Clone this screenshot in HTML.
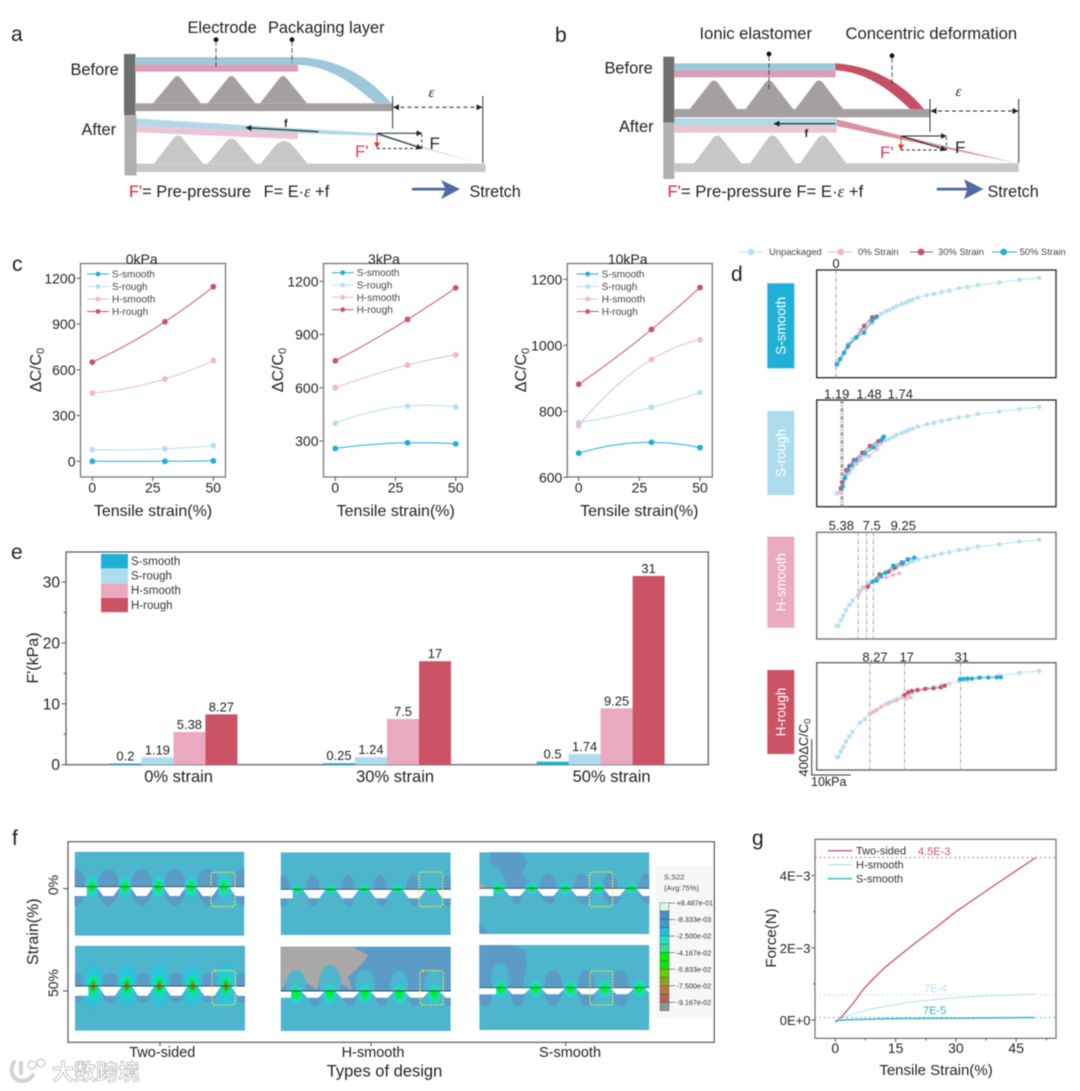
<!DOCTYPE html>
<html lang="en">
<head>
<meta charset="utf-8">
<title>Sensor figure</title>
<style>
html,body{margin:0;padding:0;background:#fff;width:1080px;height:1091px;overflow:hidden}
svg{display:block;filter:blur(0.5px)}
text{font-family:"Liberation Sans","Noto Sans CJK SC",sans-serif;fill:#222}
</style>
</head>
<body>
<svg id="fig" xmlns="http://www.w3.org/2000/svg" width="1080" height="1091" viewBox="0 0 1080 1091">
<defs>
<marker id="ah" markerWidth="7" markerHeight="7" refX="5.5" refY="3" orient="auto-start-reverse" markerUnits="userSpaceOnUse"><path d="M0,0 L6,3 L0,6 Z" fill="#222"/></marker>
<marker id="ar" markerWidth="7" markerHeight="7" refX="5.5" refY="3" orient="auto" markerUnits="userSpaceOnUse"><path d="M0,0 L6,3 L0,6 Z" fill="#d63a3a"/></marker>
<radialGradient id="hotA"><stop offset="0" stop-color="#00f028"/><stop offset=".34" stop-color="#00f040"/><stop offset=".52" stop-color="#20dcc8"/><stop offset=".78" stop-color="#30c8dc" stop-opacity=".8"/><stop offset="1" stop-color="#4db5cc" stop-opacity="0"/></radialGradient>
<radialGradient id="hotB"><stop offset="0" stop-color="#b84030"/><stop offset=".1" stop-color="#a07020"/><stop offset=".2" stop-color="#00e830"/><stop offset=".36" stop-color="#10e0b0"/><stop offset=".55" stop-color="#28c8dc"/><stop offset=".85" stop-color="#30c0d8" stop-opacity=".7"/><stop offset="1" stop-color="#4db5cc" stop-opacity="0"/></radialGradient>
</defs>

<!-- panel a -->
<g>
<text x="11" y="41" font-size="21">a</text>
<text x="187.5" y="33" font-size="16.4">Electrode</text>
<text x="268" y="33" font-size="16.4">Packaging layer</text>
<text x="70.5" y="75" font-size="16.4">Before</text>
<text x="81.5" y="135" font-size="16.4">After</text>
<rect x="124" y="54" width="11.5" height="61" fill="#6f6f6f"/>
<rect x="124.5" y="115" width="12" height="60.5" fill="#b0b0b0"/>
<path d="M135,57.3 H298 C335,58 368,75 391,103 L375,103 C355,85 330,66 298,64.7 H135 Z" fill="#9cc8da"/>
<rect x="135" y="64.7" width="163" height="7" fill="#dc9db6"/>
<path d="M153,103.3 L174,78 Q177.3,74 180.6,78 L200.8,103.3 Z" fill="#a5a09f"/>
<path d="M207.6,103.3 L228,78 Q231.4,74 234.8,78 L255.5,103.3 Z" fill="#a5a09f"/>
<path d="M260,103.3 L279.6,78 Q283,74 286.4,78 L307,103.3 Z" fill="#a5a09f"/>
<rect x="135" y="103.3" width="257.6" height="7.8" fill="#a5a09f"/>
<path d="M136.5,118.5 L377,133.3 L479.5,163.5 L377,135.8 L298,133.3 L136.5,126 Z" fill="#b3d7e5"/>
<path d="M136.5,126 L298,133.3 V139.3 L136.5,132.3 Z" fill="#ecc4d5"/>
<path d="M154,163.5 L173,139 Q178,132 183,139 L203,163.5 Z" fill="#c9c7c5"/>
<path d="M208,163.5 L226,142 Q231.4,135 237,142 L255.5,163.5 Z" fill="#c9c7c5"/>
<path d="M260.7,163.5 L275,146 Q284,136 293,146 L307.5,163.5 Z" fill="#c9c7c5"/>
<rect x="136.5" y="163.7" width="349" height="8.3" fill="#c9c7c5"/>
<path d="M392.6,96 V128.3 M482.8,96 V163" stroke="#333" stroke-width="1" fill="none"/>
<line x1="393.5" y1="107.3" x2="482" y2="107.3" stroke="#222" stroke-width="1" stroke-dasharray="4 3" marker-start="url(#ah)" marker-end="url(#ah)"/>
<text x="428.5" y="97" font-size="15" font-style="italic" style="font-family:'Liberation Serif',serif">ε</text>
<line x1="318.5" y1="131.7" x2="246" y2="127.7" stroke="#222" stroke-width="1.1" marker-end="url(#ah)"/>
<text x="284" y="127" font-size="11" font-weight="bold">f</text>
<line x1="377" y1="133.3" x2="421.8" y2="133.3" stroke="#222" stroke-width="1" marker-end="url(#ah)"/>
<line x1="377" y1="133.3" x2="421.8" y2="148.5" stroke="#222" stroke-width="1.1" marker-end="url(#ah)"/>
<path d="M421.8,134 V148.5 M377,148.5 H421.8" stroke="#222" stroke-width=".9" stroke-dasharray="3 2.5" fill="none"/>
<line x1="377" y1="133.3" x2="377" y2="148" stroke="#d63a3a" stroke-width="1" marker-end="url(#ar)"/>
<text x="429.5" y="149" font-size="17">F</text>
<text x="355" y="157" font-size="17" style="fill:#e0395a">F'</text>
<circle cx="216" cy="39.7" r="2.4" fill="#111"/>
<circle cx="292" cy="39.7" r="2.4" fill="#111"/>
<path d="M216,41 V68 M292,41 V63" stroke="#333" stroke-width=".8" stroke-dasharray="5 2" fill="none"/>
<text x="129" y="197" font-size="16.4"><tspan style="fill:#e0202a">F'</tspan>= Pre-pressure <tspan dx="8">F= E·</tspan><tspan font-style="italic" style="font-family:'Liberation Serif',serif">ε</tspan> +f</text>
<path d="M412,187.8 H445 L441,180 L460,189 L441,199.3 L445,190.5 H412 Z" fill="#5068a8"/>
<text x="469.5" y="197" font-size="16.2">Stretch</text>
</g>

<!-- panel b -->
<g>
<text x="555" y="42" font-size="21">b</text>
<text x="699.5" y="39" font-size="16.6">Ionic elastomer</text>
<text x="845.5" y="39" font-size="16.6">Concentric deformation</text>
<text x="604.5" y="73.5" font-size="16.4">Before</text>
<text x="619" y="132" font-size="16.4">After</text>
<rect x="663.3" y="114" width="11" height="65" fill="#b0b0b0"/>
<rect x="663.3" y="56.7" width="11" height="65.6" fill="#707070"/>
<rect x="674.3" y="63.3" width="161.2" height="7" fill="#9cc8da"/>
<rect x="674.3" y="70.3" width="161.2" height="7" fill="#dc9db6"/>
<path d="M835.5,63.3 C870,66 900,80 924,109 L910,109 C888,88 865,72 835.5,70.3 Z" fill="#c44f63"/>
<path d="M689.8,109 L710,83 Q714,78 718,83 L737,109 Z" fill="#a5a09f"/>
<path d="M745.6,109 L765,83 Q769,78 773,83 L793,109 Z" fill="#a5a09f"/>
<path d="M795.5,109 L815,83 Q819,78 823,83 L843,109 Z" fill="#a5a09f"/>
<rect x="674.3" y="109" width="255.5" height="8.3" fill="#a5a09f"/>
<rect x="674.3" y="118.3" width="162.5" height="7.7" fill="#b5d8e6"/>
<rect x="674.3" y="126" width="162.5" height="6.7" fill="#ecc4d5"/>
<path d="M836.8,119.3 L901,135.5 L1018,163.5 L901,139.5 L836.8,126 Z" fill="#d9919f"/>
<path d="M694,163.5 L713,138 Q717.3,133 721.5,138 L741.4,163.5 Z" fill="#c9c7c5"/>
<path d="M750,163.5 L768,138 Q772.4,133 777,138 L795.5,163.5 Z" fill="#c9c7c5"/>
<path d="M800,163.5 L818,138 Q822.4,133 827,138 L846.5,163.5 Z" fill="#c9c7c5"/>
<rect x="674.3" y="163.3" width="344.4" height="8.7" fill="#c9c7c5"/>
<path d="M930,99 V131.7 M1018.7,99 V163" stroke="#333" stroke-width="1" fill="none"/>
<line x1="931" y1="111" x2="1018" y2="111" stroke="#222" stroke-width="1" stroke-dasharray="4 3" marker-start="url(#ah)" marker-end="url(#ah)"/>
<text x="955.5" y="96" font-size="15" font-style="italic" style="font-family:'Liberation Serif',serif">ε</text>
<line x1="835.5" y1="123.7" x2="774" y2="123.7" stroke="#222" stroke-width="1.1" marker-end="url(#ah)"/>
<text x="804.5" y="137" font-size="11" font-weight="bold">f</text>
<line x1="901" y1="136" x2="946.3" y2="136" stroke="#222" stroke-width="1" marker-end="url(#ah)"/>
<line x1="901" y1="136" x2="946.3" y2="150" stroke="#222" stroke-width="1.1" marker-end="url(#ah)"/>
<path d="M946.3,137 V150 M901,150 H946.3" stroke="#222" stroke-width=".9" stroke-dasharray="3 2.5" fill="none"/>
<line x1="901" y1="136" x2="901" y2="150" stroke="#d6502a" stroke-width="1" marker-end="url(#ar)"/>
<text x="955" y="153" font-size="17">F</text>
<text x="880" y="158" font-size="17" style="fill:#e0395a">F'</text>
<circle cx="769" cy="54" r="2.4" fill="#111"/>
<circle cx="892" cy="55.7" r="2.4" fill="#111"/>
<path d="M769,56 V89 M892,58 V85" stroke="#333" stroke-width=".8" stroke-dasharray="5 2" fill="none"/>
<text x="667.5" y="197" font-size="16.7"><tspan style="fill:#e0202a">F'</tspan>= Pre-pressure F= E·<tspan font-style="italic" style="font-family:'Liberation Serif',serif">ε</tspan> +f</text>
<path d="M936.7,187.8 H967 L964,179.3 L983.5,189 L964,199.3 L967,190.5 H936.7 Z" fill="#5068a8"/>
<text x="987.5" y="197" font-size="16.2">Stretch</text>
</g>

<text x="12" y="271" font-size="21">c</text>
<text x="731" y="281" font-size="21">d</text>
<text x="11" y="559" font-size="21">e</text>
<text x="12" y="845" font-size="21">f</text>
<text x="752" y="845" font-size="21">g</text>

<g id="chartC"></g>
<g id="chartD"></g>
<g id="chartE"></g>
<g id="feaF"></g>
<g id="chartG"></g>

<g opacity=".95">
<path d="M14,1062 C9,1070 12,1080 22,1081 C28,1081 31,1078 33,1075 M21,1063 V1073" fill="none" stroke="#d0d0d0" stroke-width="4" stroke-linecap="round"/>
<circle cx="32" cy="1065" r="4" fill="none" stroke="#d0d0d0" stroke-width="1.5"/>
<circle cx="41" cy="1063" r="4" fill="none" stroke="#d0d0d0" stroke-width="1.5"/>
<text x="52" y="1080" font-size="22" font-weight="bold" style="fill:#fff;stroke:#b8b8b8;stroke-width:.8">大数跨境</text>
</g>
</svg>

<script>
// ---------- panel c data ----------
const cStrain = [0, 30, 50];
const cTicksX = [0, 25, 50];
const cTicksY1 = [0, 300, 600, 900, 1200];
const cTicksY2 = [300, 600, 900, 1200];
const cTicksY3 = [600, 800, 1000, 1200];
const cSeriesNames = ['S-smooth', 'S-rough', 'H-smooth', 'H-rough'];
const c1SSmooth = [0, 0, 3];
const c1SRough = [75, 82, 102];
const c1HSmooth = [447, 540, 660];
const c1HRough = [650, 915, 1145];
const c2SSmooth = [258, 290, 284];
const c2SRough = [400, 497, 492];
const c2HSmooth = [600, 728, 786];
const c2HRough = [752, 985, 1163];
const c3SSmooth = [673, 706, 690];
const c3SRough = [766, 812, 857];
const c3HSmooth = [757, 957, 1017];
const c3HRough = [882, 1048, 1175];

// ---------- panel d data ----------
const dUnpackagedKPa = [0.2,0.6,1.2,1.8,2.5,3.3,4.1,6.0,7.2,8.6,10.1,11.2,12.3,13.2,14.2,15.1,16.3,17.3,18.1,19.0,20.3,22.5,24.3,26.2,28.1,30.5,32.6,35.2,40.5,45.5,50.4];
const dUnpackagedDC = [0,4,65,113,174,229,276,378,418,480,516,549,578,592,614,636,658,672,691,705,727,752,767,789,803,829,840,865,891,920,941];
const dLegendNames = ['Unpackaged', '0% Strain', '30% Strain', '50% Strain'];
const d1PinkKPa = [0.2,1,2,3,5.05,6.95,9,9.6];
const d1PinkDC = [0,55,120,185,287,382,447,502];
const d1RedKPa = [0.2,1,2,3,5.05,6.95,9,10.1];
const d1RedDC = [0,55,127,200,294,418,513,520];
const d1BlueKPa = [0.2,1,2,3,5.05,6.95,9,9.9];
const d1BlueDC = [0,55,127,207,294,345,476,513];
const d2PinkKPa = [1,1.8,3.1,5.1,6.2,8.2,10.1,11.2];
const d2PinkDC = [18,109,218,320,363,407,480,545];
const d2RedKPa = [1.2,1.5,2.5,3.3,4.4,6.5,8.4,10.5,11.7];
const d2RedDC = [55,120,254,298,363,443,516,570,611];
const d2BlueKPa = [1.65,2.2,3,3.9,5,7.2,9.3,11.3,11.9];
const d2BlueDC = [73,164,254,309,363,436,502,582,618];
const d3PinkKPa = [5.5,6.6,7.9,10.1,12.4,14.2,15.7];
const d3PinkDC = [338,422,447,509,531,556,574];
const d3RedKPa = [7.9,10.8,13,14.6,16.5,17.8];
const d3RedDC = [429,563,592,636,683,727];
const d3BlueKPa = [9.1,10.1,11.2,12.3,14.2,16.3,17.9,19.4];
const d3BlueDC = [483,494,545,582,658,694,727,745];
const d4PinkKPa = [8.4,9.3,10.1,11.3,13.2,15.1,17.4,18.5];
const d4PinkDC = [473,498,516,553,596,625,643,654];
const d4RedKPa = [17,17.9,18.8,20.2,22.1,24.2,26,27];
const d4RedDC = [680,709,723,734,745,752,763,781];
const d4BlueKPa = [30.8,31.6,32.6,33.7,35.7,37.8,39.9,40.9];
const d4BlueDC = [851,854,858,858,869,869,872,872];
const d1Guides = [0];
const d2Guides = [1.19,1.48,1.74];
const d3Guides = [5.5,7.6,9.25];
const d4Guides = [8.4,17,30.9];

// ---------- panel e data ----------
const eGroups = ['0% strain', '30% strain', '50% strain'];
const eSeriesNames = ['S-smooth', 'S-rough', 'H-smooth', 'H-rough'];
const eSSmooth = [0.2, 0.25, 0.5];
const eSRough = [1.19, 1.24, 1.74];
const eHSmooth = [5.38, 7.5, 9.25];
const eHRough = [8.27, 17, 31];
const eTicks = [0, 10, 20, 30];
const eMinorTicks = [5, 15, 25];

// ---------- panel g data (force in 1E-3 N) ----------
const gTicksX = [0, 15, 30, 45];
const gMinorX = [7.5, 22.5, 37.5, 52.5];
const gTicksY = [0, 2, 4];
const gTickLabelsY = ['0E+0', '2E\u22123', '4E\u22123'];
const gMinorY = [1, 3];
const gTwoSidedX = [0,1.6,4.5,7,9.5,12,15,20.2,25.2,30,35.1,40.1,44.9,49.9];
const gTwoSidedY = [-0.06,0.09,0.47,0.85,1.15,1.42,1.7,2.16,2.58,3.0,3.39,3.77,4.13,4.5];
const gHSmoothX = [0,2,5.3,8.6,12.8,17.8,23.6,30,36.8,43.4,49.5];
const gHSmoothY = [-0.03,0.07,0.2,0.3,0.38,0.48,0.55,0.62,0.665,0.69,0.72];
const gSSmoothX = [0,2,5,15,30,49.5];
const gSSmoothY = [-0.02,0,0.01,0.04,0.05,0.07];
const gRefLevels = [4.5, 0.7, 0.07];

// ---------- helpers ----------
const NS = 'http://www.w3.org/2000/svg';
function el(tag, attrs, parent) {
  const n = document.createElementNS(NS, tag);
  for (const k in attrs) n.setAttribute(k, attrs[k]);
  parent.appendChild(n);
  return n;
}
function txt(content, attrs, parent) {
  const n = el('text', attrs, parent);
  n.textContent = content;
  return n;
}
const COL = { ss: '#23acd6', sr: '#b6def0', hs: '#f0b8cc', hr: '#c9546a' };
const BAR = ['#1fb0d8', '#aedcef', '#e9a9c1', '#cc5366'];
const gC = document.getElementById('chartC');
const gD = document.getElementById('chartD');
const gE = document.getElementById('chartE');
const gF = document.getElementById('feaF');
const gG = document.getElementById('chartG');

// quadratic through three points, used for the smooth fit in panel c
function quad(xs, ys, x) {
  let s = 0;
  for (let i = 0; i < 3; i++) {
    let t = ys[i];
    for (let j = 0; j < 3; j++) if (j !== i) t *= (x - xs[j]) / (xs[i] - xs[j]);
    s += t;
  }
  return s;
}

// ---------- panel c ----------
function drawC(cfg) {
  const sx = v => cfg.x0 + (v - 0) * (cfg.x50 - cfg.x0) / 50;
  const sy = v => cfg.yA + (v - cfg.vA) * (cfg.yB - cfg.yA) / (cfg.vB - cfg.vA);
  const g = el('g', {}, gC);
  
  
  const fr = el('rect', { x: cfg.l, y: 263.5, width: cfg.r - cfg.l, height: 213.5, fill: 'none', stroke: '#777', 'stroke-width': 1.3 }, g);
  
  
  cfg.ticks.forEach(v => {
    const t = el('line', { x1: cfg.l - 4, x2: cfg.l, y1: sy(v), y2: sy(v), stroke: '#555', 'stroke-width': 1 }, g);
    
    
    const lb = txt(String(v), { x: cfg.l - 5, y: sy(v) + 5, 'text-anchor': 'end', 'font-size': 14 }, g);
    
    
  });
  cTicksX.forEach(v => {
    const t = el('line', { x1: sx(v), x2: sx(v), y1: 477, y2: 481, stroke: '#555', 'stroke-width': 1 }, g);
    
    
    const lb = txt(String(v), { x: sx(v), y: 492.5, 'text-anchor': 'middle', 'font-size': 14 }, g);
    
    
  });
  const ti = txt(cfg.title, { x: cfg.titleX, y: 264, 'text-anchor': 'middle', 'font-size': 14 }, g);
  
  
  const xt = txt('Tensile strain(%)', { x: cfg.xTitleX, y: 516, 'text-anchor': 'middle', 'font-size': 16 }, g);
  
  
  const yt = el('text', { transform: 'translate(' + cfg.yTitleX + ',370) rotate(-90)', 'text-anchor': 'middle', 'font-size': 16 }, g);
  
  
  yt.appendChild(document.createTextNode('\u0394C/C'));
  const sub = el('tspan', { dy: 3, 'font-size': 11 }, yt);
  sub.textContent = '0';
  const colors = [COL.ss, COL.sr, COL.hs, COL.hr];
  cfg.series.forEach((vals, si) => {
    let d = '';
    for (let x = 0; x <= 50; x += 1) {
      d += (x ? 'L' : 'M') + sx(x).toFixed(1) + ',' + sy(quad(cStrain, vals, x)).toFixed(1);
    }
    const p = el('path', { d: d, fill: 'none', stroke: colors[si], 'stroke-width': 1 }, g);
    
    
    vals.forEach((v, i) => {
      const c = el('circle', { cx: sx(cStrain[i]), cy: sy(v), r: 2.9, fill: colors[si] }, g);
      
      
    });
    const ly = cfg.legY + si * cfg.legDy;
    const ll = el('line', { x1: cfg.legX, x2: cfg.legX + 22, y1: ly, y2: ly, stroke: colors[si], 'stroke-width': 1 }, g);
    
    
    const lc = el('circle', { cx: cfg.legX + 11, cy: ly, r: 2.4, fill: colors[si] }, g);
    
    
    const lt = txt(cSeriesNames[si], { x: cfg.legX + 25, y: ly + 3.5, 'font-size': 10, style: 'fill:#444' }, g);
    
    
  });
}
drawC({ name: '0kpa', title: '0kPa', l: 80.5, r: 225.5, x0: 92.3, x50: 213.3, yA: 461.3, vA: 0, yB: 278.3, vB: 1200, ticks: cTicksY1, titleX: 141.7, xTitleX: 153, yTitleX: 41, legX: 87, legY: 274, legDy: 12.5, series: [c1SSmooth, c1SRough, c1HSmooth, c1HRough] });
drawC({ name: '3kpa', title: '3kPa', l: 323.5, r: 467.7, x0: 335.3, x50: 455.7, yA: 441, vA: 300, yB: 281.3, vB: 1200, ticks: cTicksY2, titleX: 384, xTitleX: 395.7, yTitleX: 283, legX: 331.7, legY: 272.7, legDy: 12.3, series: [c2SSmooth, c2SRough, c2HSmooth, c2HRough] });
drawC({ name: '10kpa', title: '10kPa', l: 567.3, r: 712.3, x0: 578.7, x50: 700, yA: 477.3, vA: 600, yB: 279.3, vB: 1200, ticks: cTicksY3, titleX: 627.7, xTitleX: 639.3, yTitleX: 526, legX: 576.7, legY: 274, legDy: 12.5, series: [c3SSmooth, c3SRough, c3HSmooth, c3HRough] });

// ---------- panel d ----------
const dX = k => 836 + k * 4.03;
const dY = (y0, v) => y0 - v * 0.0917;
function dSeries(g, y0, xs, ys, color, r, name) {
  const pts = xs.map((x, i) => dX(x).toFixed(1) + ',' + dY(y0, ys[i]).toFixed(1)).join(' ');
  const l = el('polyline', { points: pts, fill: 'none', stroke: color, 'stroke-width': .9 }, g);
  
  
  xs.forEach((x, i) => {
    const c = el('circle', { cx: dX(x), cy: dY(y0, ys[i]), r: r, fill: color }, g);
    
    
  });
}
function drawD(cfg) {
  const g = el('g', {}, gD);
  
  
  const tag = el('rect', { x: 767.3, y: cfg.tagTop, width: 27, height: cfg.tagH, fill: cfg.color }, g);
  
  
  const tl = txt(cfg.name, { transform: 'translate(785.5,' + (cfg.tagTop + cfg.tagH / 2) + ') rotate(-90)', 'text-anchor': 'middle', 'font-size': 13.5, style: 'fill:#fff' }, g);
  
  
  const fr = el('rect', { x: 816.7, y: cfg.top, width: 239.3, height: cfg.bot - cfg.top, fill: 'none', stroke: cfg.frame, 'stroke-width': 1.4 }, g);
  
  
  cfg.guides.forEach(k => {
    const l = el('line', { x1: dX(k), x2: dX(k), y1: cfg.top, y2: cfg.bot, stroke: '#8a8a8a', 'stroke-width': .8, 'stroke-dasharray': '4 1.5 1 1.5' }, g);
    
    
  });
  cfg.labels.forEach((s, i) => {
    const t = txt(s, { x: cfg.labelX[i], y: cfg.labelY, 'text-anchor': 'middle', 'font-size': 13 }, g);
    
    
  });
  dSeries(g, cfg.y0, dUnpackagedKPa, dUnpackagedDC, '#b9e0f1', 2.3, 'unpackaged');
  dSeries(g, cfg.y0, cfg.pink[0], cfg.pink[1], '#f0b8cc', 2.1, 'strain-0');
  dSeries(g, cfg.y0, cfg.red[0], cfg.red[1], '#c9546a', 2.2, 'strain-30');
  dSeries(g, cfg.y0, cfg.blue[0], cfg.blue[1], '#23acd6', 2.2, 'strain-50');
}
drawD({ name: 'S-smooth', color: BAR[0], frame: '#333', tagTop: 283.3, tagH: 85, top: 270, bot: 377.7, y0: 364.3, guides: d1Guides, labels: ['0'], labelX: [836], labelY: 268, pink: [d1PinkKPa, d1PinkDC], red: [d1RedKPa, d1RedDC], blue: [d1BlueKPa, d1BlueDC] });
drawD({ name: 'S-rough', color: BAR[1], frame: '#333', tagTop: 411, tagH: 84, top: 400, bot: 506.7, y0: 493.3, guides: d2Guides, labels: ['1.19', '1.48', '1.74'], labelX: [836.7, 869, 900.3], labelY: 398.5, pink: [d2PinkKPa, d2PinkDC], red: [d2RedKPa, d2RedDC], blue: [d2BlueKPa, d2BlueDC] });
drawD({ name: 'H-smooth', color: BAR[2], frame: '#777', tagTop: 536.7, tagH: 91, top: 532.3, bot: 639, y0: 626, guides: d3Guides, labels: ['5.38', '7.5', '9.25'], labelX: [841.3, 871.7, 903.3], labelY: 530, pink: [d3PinkKPa, d3PinkDC], red: [d3RedKPa, d3RedDC], blue: [d3BlueKPa, d3BlueDC] });
drawD({ name: 'H-rough', color: BAR[3], frame: '#666', tagTop: 670, tagH: 84, top: 662.7, bot: 770, y0: 757.3, guides: d4Guides, labels: ['8.27', '17', '31'], labelX: [875, 906.7, 961.7], labelY: 661.3, pink: [d4PinkKPa, d4PinkDC], red: [d4RedKPa, d4RedDC], blue: [d4BlueKPa, d4BlueDC] });

// legend for panel d
[['#b9e0f1', 738, 763, 751, 769], ['#f0b8cc', 828, 852, 840.7, 858], ['#c9546a', 910, 933, 921, 938], ['#23acd6', 992, 1017, 1003.7, 1019.7]].forEach((e, i) => {
  const l = el('line', { x1: e[1], x2: e[2], y1: 252, y2: 252, stroke: e[0], 'stroke-width': 1 }, gD);
  
  
  const c = el('circle', { cx: e[3], cy: 252, r: 3.4, fill: e[0] }, gD);
  
  
  const t = txt(dLegendNames[i], { x: e[4], y: 255, 'font-size': 9.4, style: 'fill:#444' }, gD);
  
  
});
// scale bars
const sb = el('path', { d: 'M811.7,739.3 V775 H850.7', fill: 'none', stroke: '#555', 'stroke-width': 1.2 }, gD);


const sb1 = el('text', { transform: 'translate(808,776.5) rotate(-90)', 'font-size': 13 }, gD);


sb1.appendChild(document.createTextNode('400\u0394C/C'));
const sb1s = el('tspan', { dy: 2.5, 'font-size': 9 }, sb1);
sb1s.textContent = '0';
const sb2 = txt('10kPa', { x: 811, y: 786, 'font-size': 12.5 }, gD);



// ---------- panel e ----------
const eY = v => 764.7 - v * 6.09;
const eGroupX = i => 109.4 + i * 213.6;
const eLabelX = i => 178.6 + i * 216.5;
const eSeries = [eSSmooth, eSRough, eHSmooth, eHRough];
const eFr = el('rect', { x: 66, y: 552, width: 642.3, height: 212.7, fill: 'none', stroke: '#555', 'stroke-width': 1.2 }, gE);


eSeries.forEach((vals, s) => {
  vals.forEach((v, g) => {
    const x = eGroupX(g) + s * 32;
    const b = el('rect', { x: x, y: eY(v), width: 32, height: 764.7 - eY(v), fill: BAR[s] }, gE);
    
    
    const t = txt(String(v), { x: x + 16, y: eY(v) - 3, 'text-anchor': 'middle', 'font-size': 13 }, gE);
    
    
  });
});
eTicks.forEach(v => {
  const t = el('line', { x1: 61.5, x2: 66, y1: eY(v), y2: eY(v), stroke: '#555', 'stroke-width': 1 }, gE);
  
  
  const l = txt(String(v), { x: 60, y: eY(v) + 5.5, 'text-anchor': 'end', 'font-size': 15.5 }, gE);
  
  
});
eMinorTicks.forEach(v => {
  const t = el('line', { x1: 63.5, x2: 66, y1: eY(v), y2: eY(v), stroke: '#555', 'stroke-width': 1 }, gE);
  
  
});
eGroups.forEach((s, g) => {
  const t = txt(s, { x: eLabelX(g), y: 782, 'text-anchor': 'middle', 'font-size': 16.5 }, gE);
  
  
});
eSeriesNames.forEach((s, i) => {
  const y = 554 + i * 14.6;
  const r = el('rect', { x: 101, y: y, width: 27, height: 14.4, fill: BAR[i] }, gE);
  
  
  const t = txt(s, { x: 131, y: y + 11, 'font-size': 11.5, style: 'fill:#333' }, gE);
  
  
});
const eYT = txt("F'(kPa)", { transform: 'translate(38,658) rotate(-90)', 'text-anchor': 'middle', 'font-size': 16 }, gE);



// ---------- panel f ----------
const TEAL = '#4db5cc', DARK = '#5a9bc8', GREY = '#aaa8a6';
let clipId = 0;
function fea(c) {
  const g = el('g', {}, gF);
  
  
  const id = 'clip' + (clipId++);
  const defs = el('clipPath', { id: id }, g);
  el('rect', { x: c.x0, y: c.y0, width: c.x1 - c.x0, height: c.y1 - c.y0 }, defs);
  const body = el('g', { 'clip-path': 'url(#' + id + ')' }, g);
  const bg = el('rect', { x: c.x0, y: c.y0, width: c.x1 - c.x0, height: c.y1 - c.y0, fill: TEAL }, body);
  
  
  (c.paths || []).forEach(p => {
    const n = el('path', { d: p[0], fill: p[1] }, body);
    
    
  });
  (c.above || []).forEach(x => {
    const n = el('ellipse', { cx: x, cy: c.lineY, rx: c.aRx, ry: c.aRy, fill: DARK }, body);
    
    
  });
  (c.below || []).forEach(x => {
    const n = el('ellipse', { cx: x, cy: c.botY, rx: c.bRx, ry: c.bRy, fill: DARK }, body);
    
    
  });
  (c.halos || []).forEach(h => {
    const n = el('ellipse', { cx: h[0], cy: h[1], rx: h[2], ry: h[3], fill: TEAL }, body);
    
    
  });
  c.spots.forEach(x => {
    const n = el('ellipse', { cx: x, cy: c.lineY + (c.sDy || 0), rx: c.sRx, ry: c.sRy, fill: 'url(#' + c.hot + ')' }, body);
    
    
  });
  const sp = c.spots[1] - c.spots[0];
  const all = [c.spots[0] - sp].concat(c.spots, [c.spots[c.spots.length - 1] + sp]);
  for (let i = 0; i < all.length - 1; i++) {
    const a = all[i], b = all[i + 1];
    const pts = [[a + 5, c.lineY], [b - 5, c.lineY], [b - 11.5, c.botY], [a + 11.5, c.botY]].map(q => q.join(',')).join(' ');
    const n = el('polygon', { points: pts, fill: '#fff' }, body);
    
    
  }
  // thin bands where the gap runs out to the sample edge
  const edgeL = el('rect', { x: c.x0, y: c.lineY, width: c.spots[0] - 5 - c.x0, height: c.botY - c.lineY, fill: '#fff' }, body);
  
  
  const edgeR = el('rect', { x: c.spots[c.spots.length - 1] + 12, y: c.lineY, width: c.x1 - c.spots[c.spots.length - 1] - 12, height: c.botY - c.lineY, fill: '#fff' }, body);
  
  
  const ln = el('line', { x1: c.x0, x2: c.x1, y1: c.lineY, y2: c.lineY, stroke: '#3e4a50', 'stroke-width': .9 }, body);
  
  
  const bx = el('rect', { x: c.box[0], y: c.box[1], width: c.box[2], height: c.box[3], rx: 3, fill: 'none', stroke: '#e8f04a', 'stroke-width': 1.3, 'stroke-dasharray': '1.6 1.4' }, g);
  
  
}
const feaFrame = el('rect', { x: 68, y: 841.7, width: 646.3, height: 200.6, fill: 'none', stroke: '#555', 'stroke-width': 1.2 }, gF);



fea({ name: 'two-sided-0', x0: 74.7, x1: 244.3, y0: 851.7, y1: 935.7, lineY: 886.7, botY: 896, spots: [91.7, 125, 158.3, 191, 224], hot: 'hotA', sRx: 8, sRy: 13, above: [75, 108.3, 141.7, 175, 208.3, 243.3], aRx: 11, aRy: 18, below: [75, 108.3, 141.7, 175, 208.3, 243.3], bRx: 5.5, bRy: 10, box: [211, 872.3, 24, 34.4] });
fea({ name: 'two-sided-50', x0: 75, x1: 245, y0: 945.7, y1: 1030.7, lineY: 986, botY: 995.7, spots: [93.3, 126.7, 159.3, 192.7, 226], hot: 'hotB', sRx: 12, sRy: 25, above: [76, 110, 143, 176, 209, 243], aRx: 11, aRy: 13, below: [76, 110, 143, 176, 209, 243], bRx: 7, bRy: 7, box: [212, 970.7, 23.3, 34.3] });
fea({ name: 'h-smooth-0', x0: 280.7, x1: 450.7, y0: 852.3, y1: 935, lineY: 889.3, botY: 898.3, spots: [297.7, 330.7, 364, 397.3, 431], hot: 'hotA', sRx: 7, sRy: 6, above: [283, 313, 348, 380, 413, 448], aRx: 6.5, aRy: 14, below: [283, 313, 349, 382, 415, 448], bRx: 5, bRy: 8, box: [419, 872, 23.7, 34.7] });
fea({ name: 'h-smooth-50', x0: 280.7, x1: 450.7, y0: 946.7, y1: 1031, lineY: 991, botY: 997.7, spots: [296, 330, 365, 399.3, 434.3], hot: 'hotA', sRx: 9, sRy: 12, sDy: 3,
  paths: [['M280,946 H452 V991 H280 Z', DARK], ['M280.7,946.7 H353 L368,955 L363,963 L348,977 L352,990 L340,983 L333,973 L320,977 L317,990 L303,980 L290,978 L281,990 Z', GREY]],
  below: [315, 350, 382, 415, 449], bRx: 6, bRy: 8,
  halos: [[296, 985, 10, 15], [330, 983, 11, 18], [365, 985, 10, 16], [399, 985, 9, 14], [434, 985, 10, 15]], box: [420, 970.7, 23.3, 34.3] });
fea({ name: 's-smooth-0', x0: 479.3, x1: 649.3, y0: 852.3, y1: 934, lineY: 888.3, botY: 896, spots: [498.3, 531.7, 565, 598.3, 631], hot: 'hotA', sRx: 8, sRy: 7,
  paths: [['M490,852 H520 L527,862 L522,875 L530,882 L530,888 L508,888 L502,872 L490,862 Z', DARK], ['M479,922 L490,934 L479,934 Z', DARK], ['M480,884 H484 L486,889 H480 Z', GREY]],
  above: [548, 581.7, 610, 646.7], aRx: 8, aRy: 15, below: [516.7, 550, 585, 615, 648], bRx: 5.5, bRy: 8, box: [589.3, 872, 23.4, 34.7] });
fea({ name: 's-smooth-50', x0: 479.3, x1: 649.3, y0: 945, y1: 1030, lineY: 987.7, botY: 994.3, spots: [501, 535.7, 570.3, 605, 639.3], hot: 'hotA', sRx: 9, sRy: 11, sDy: 1,
  paths: [['M479,945 H510 L525,950 L527,965 L522,988 L479,988 Z', DARK]],
  above: [553.3, 586.7, 620], aRx: 9, aRy: 18, below: [485, 518, 553, 587, 621.7], bRx: 7, bRy: 12, halos: [[500, 977, 9, 14]], box: [590, 971, 22.7, 34] });

// colour legend
const feaLegColors = ['#d8f5ee', '#4a90c8', '#3aa0c0', '#22c0d8', '#20e0c8', '#30e090', '#00f000', '#10e010', '#60d000', '#90a020', '#b07a40', '#b86050', '#8a9a98'];
const feaLegLabels = ['+8.487e-01', '-8.333e-03', '-2.500e-02', '-4.167e-02', '-5.833e-02', '-7.500e-02', '-9.167e-02'];
const lb = el('rect', { x: 655.7, y: 865, width: 56.6, height: 153.3, fill: '#f7f7f7' }, gF);


const lt1 = txt('S,S22', { x: 664, y: 879.5, 'font-size': 7.5, style: 'fill:#444' }, gF);


const lt2 = txt('(Avg:75%)', { x: 664, y: 890.5, 'font-size': 7.5, style: 'fill:#444' }, gF);


feaLegColors.forEach((col, i) => {
  const r = el('rect', { x: 660, y: 902.7 + i * 8.31, width: 9, height: 8.31, fill: col, stroke: '#445', 'stroke-width': .4 }, gF);
  
  
});
feaLegLabels.forEach((s, i) => {
  const y = 903 + i * 16.55;
  const t = el('line', { x1: 669, x2: 675, y1: y, y2: y, stroke: '#444', 'stroke-width': .6 }, gF);
  
  
  const l = txt(s, { x: 676.5, y: y + 2.6, 'font-size': 7.2, style: 'fill:#333' }, gF);
  
  
});
// frame ticks and labels
[[888.7, '0%', 885], [991, '50%', 983]].forEach(e => {
  const t = el('line', { x1: 63, x2: 68, y1: e[0], y2: e[0], stroke: '#444', 'stroke-width': 1 }, gF);
  
  
  const l = txt(e[1], { transform: 'translate(58,' + e[2] + ') rotate(-90)', 'text-anchor': 'middle', 'font-size': 14 }, gF);
  
  
});
[[160, 'Two-sided', 162.3], [371, 'H-smooth', 373], [565.7, 'S-smooth', 570]].forEach(e => {
  const t = el('line', { x1: e[0], x2: e[0], y1: 1042.3, y2: 1046, stroke: '#444', 'stroke-width': 1 }, gF);
  
  
  const l = txt(e[1], { x: e[2], y: 1057, 'text-anchor': 'middle', 'font-size': 14.5 }, gF);
  
  
});
const fyT = txt('Strain(%)', { transform: 'translate(38,931.7) rotate(-90)', 'text-anchor': 'middle', 'font-size': 16 }, gF);


const fxT = txt('Types of design', { x: 384.5, y: 1076.5, 'text-anchor': 'middle', 'font-size': 16.5 }, gF);



// ---------- panel g ----------
const gX = v => 835.3 + v * 4.02;
const gY = v => 1020 - v * 36.1;
const gFr = el('rect', { x: 815, y: 839.3, width: 241, height: 199, fill: 'none', stroke: '#777', 'stroke-width': 1.3 }, gG);


gTicksX.forEach(v => {
  const t = el('line', { x1: gX(v), x2: gX(v), y1: 1038.3, y2: 1042, stroke: '#555', 'stroke-width': 1 }, gG);
  
  
  const l = txt(String(v), { x: gX(v), y: 1053, 'text-anchor': 'middle', 'font-size': 14 }, gG);
  
  
});
gMinorX.forEach(v => {
  const t = el('line', { x1: gX(v), x2: gX(v), y1: 1038.3, y2: 1040.5, stroke: '#555', 'stroke-width': 1 }, gG);
  
  
});
gTicksY.forEach((v, i) => {
  const t = el('line', { x1: 811, x2: 815, y1: gY(v), y2: gY(v), stroke: '#555', 'stroke-width': 1 }, gG);
  
  
  const l = txt(gTickLabelsY[i], { x: 810.5, y: gY(v) + 5, 'text-anchor': 'end', 'font-size': 13 }, gG);
  
  
});
gMinorY.forEach(v => {
  const t = el('line', { x1: 813, x2: 815, y1: gY(v), y2: gY(v), stroke: '#555', 'stroke-width': 1 }, gG);
  
  
});
const gColors = ['#cc5366', '#b6def0', '#2fb0d0'];
gRefLevels.forEach((v, i) => {
  const l = el('line', { x1: 815, x2: 1056, y1: gY(v), y2: gY(v), stroke: gColors[i], 'stroke-width': 1, 'stroke-dasharray': '1.5 3' }, gG);
  
  
});
[[gTwoSidedX, gTwoSidedY, 'two-sided', 1.3], [gHSmoothX, gHSmoothY, 'h-smooth', 1], [gSSmoothX, gSSmoothY, 's-smooth', 1.4]].forEach((s, i) => {
  const pts = s[0].map((x, j) => gX(x).toFixed(1) + ',' + gY(s[1][j]).toFixed(1)).join(' ');
  const l = el('polyline', { points: pts, fill: 'none', stroke: gColors[i], 'stroke-width': s[3] }, gG);
  
  
});
['Two-sided', 'H-smooth', 'S-smooth'].forEach((s, i) => {
  const y = 850.7 + i * 14;
  const l = el('line', { x1: 827.7, x2: 852.3, y1: y, y2: y, stroke: gColors[i], 'stroke-width': 1.3 }, gG);
  
  
  const t = txt(s, { x: 856, y: y + 4, 'font-size': 11, style: 'fill:#333' }, gG);
  
  
});
[['4.5E-3', 918, 855, 0], ['7E-4', 924, 992, 1], ['7E-5', 923, 1014, 2]].forEach(e => {
  const t = txt(e[0], { x: e[1], y: e[2], 'font-size': 11, style: 'fill:' + gColors[e[3]] }, gG);
  
  
});
const gXT = txt('Tensile Strain(%)', { x: 936, y: 1075, 'text-anchor': 'middle', 'font-size': 15 }, gG);


const gYT = txt('Force(N)', { transform: 'translate(776,938) rotate(-90)', 'text-anchor': 'middle', 'font-size': 15 }, gG);


</script>
</body>
</html>
